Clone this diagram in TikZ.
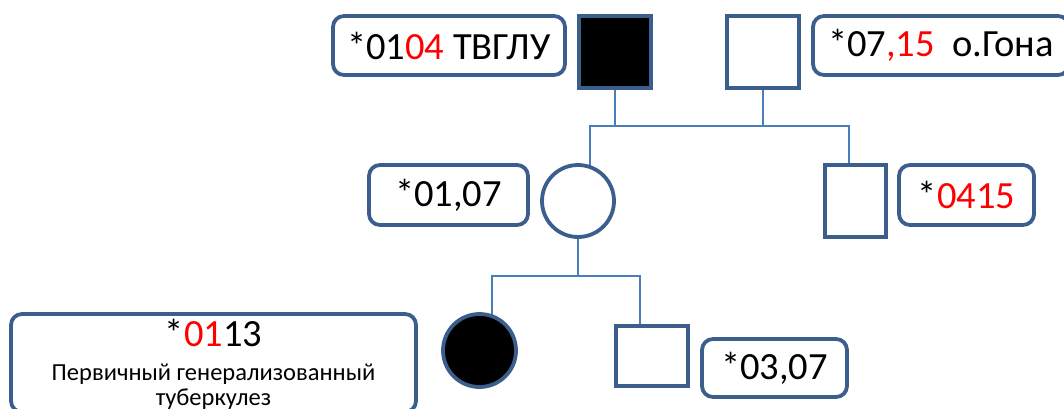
\documentclass[tikz,border=0pt]{standalone}
\usepackage{fontspec}
\setmainfont{Carlito}
\usetikzlibrary{backgrounds}
\definecolor{shapeblue}{HTML}{3B5E8C}
\definecolor{connblue}{HTML}{4A7EBB}
\definecolor{txtred}{HTML}{FF0000}
\begin{document}
\begin{tikzpicture}[x=1pt,y=-1pt,
  lbl/.style={draw=shapeblue, line width=3.8pt, rounded corners=11pt, fill=white, inner sep=0pt, font=\fontsize{38.5}{44}\selectfont},
  sq/.style={draw=shapeblue, line width=3.8pt, fill=white, inner sep=0pt, rectangle},
  circ/.style={draw=shapeblue, line width=3.8pt, fill=white, inner sep=0pt, circle},
  conn/.style={draw=connblue, line width=1.8pt},
  big/.style={font=\fontsize{38.5}{44}\selectfont, inner sep=0pt, anchor=base},
  small/.style={font=\fontsize{24.5}{28}\selectfont, inner sep=0pt, anchor=base}]
\useasboundingbox (0,0) rectangle (1064,409);
\clip (0,0) rectangle (1064,409);
% generation I
\node[lbl, minimum width=232, minimum height=59] (lf) at (449,45.5) {*01\textcolor{txtred}{04} ТВГЛУ};
\node[sq, fill=black, minimum width=72, minimum height=72] (f) at (615,52) {};
\node[sq, minimum width=72, minimum height=72] (m) at (763,52) {};
\node[lbl, minimum width=256, minimum height=59] (lm) at (941,45.5) {*07\textcolor{txtred}{,15}\ \ о.Гона};
% generation II
\node[lbl, minimum width=159, minimum height=60] (ld) at (448.5,195) {*01,07};
\node[circ, minimum size=72] (d) at (578,201) {};
\node[sq, minimum width=61, minimum height=72] (s) at (855.5,201) {};
\node[lbl, minimum width=135, minimum height=60] (ls) at (966.5,195) {*\textcolor{txtred}{0415}};
% generation III
\node[lbl, minimum width=405, minimum height=98] (lg) at (213.5,363) {};
\node[big] (lgt1) at (213.5,346) {*\textcolor{txtred}{01}13};
\node[small] (lgt2) at (213.5,380) {Первичный генерализованный};
\node[small] (lgt3) at (213.5,405) {туберкулез};
\node[circ, fill=black, minimum size=73] (g) at (479.5,350.5) {};
\node[sq, minimum width=72, minimum height=60] (b) at (652,356) {};
\node[lbl, minimum width=145, minimum height=58] (lb) at (774.5,368) {*03,07};
% connectors
\coordinate (sibL) at (590,126);
\coordinate (sibR) at (849,126);
\coordinate (gL) at (492,276);
\coordinate (gR) at (640,276);
\begin{scope}[on background layer]
\draw[conn] (f.south) -- (f.south |- sibL);
\draw[conn] (m.south) -- (m.south |- sibL);
\draw[conn] (sibL |- d.center) -- (sibL) -- (sibR) -- (sibR |- s.center);
\draw[conn] (d.south) -- (d.south |- gL);
\draw[conn] (gL |- g.center) -- (gL) -- (gR) -- (gR |- b.center);
\end{scope}
\end{tikzpicture}
\end{document}
